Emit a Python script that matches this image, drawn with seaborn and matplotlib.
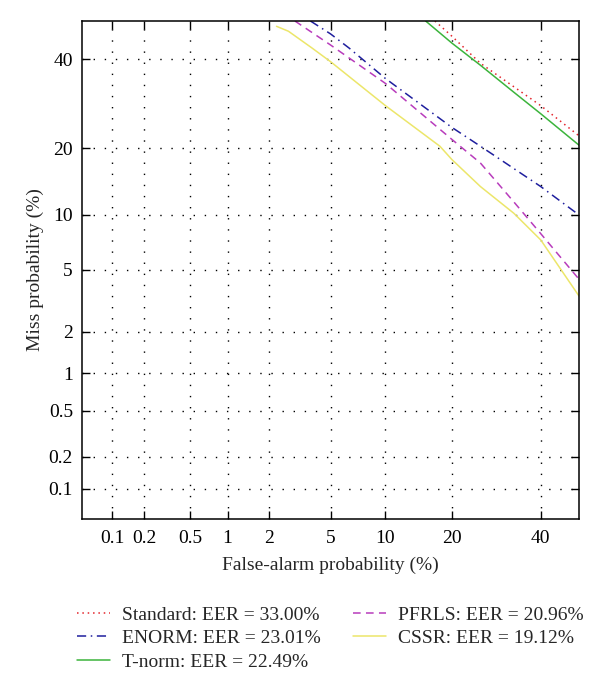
"""DET curves for the five score normalisation systems."""

import math

import matplotlib
matplotlib.use("Agg")
import matplotlib.pyplot as plt
import numpy as np
import pandas as pd
import seaborn as sns

sns.set_style("ticks")
plt.rcParams["font.family"] = ["Liberation Serif", "DejaVu Serif"]

# values, in percent
standard_fa = [17.0, 20.0, 25.7, 33.3, 40.0, 50.0]
standard_miss = [50.0, 46.0, 39.0, 33.2, 28.8, 22.4]

enorm_fa = [3.77, 5.0, 6.4, 10.0, 20.0, 25.7, 40.0, 50.0]
enorm_miss = [50.0, 46.6, 42.9, 35.2, 24.1, 20.4, 13.7, 10.0]

tnorm_fa = [15.5, 20.0, 25.7, 33.3, 40.0, 50.0]
tnorm_miss = [50.0, 44.2, 38.5, 31.9, 27.0, 20.6]

pfrls_fa = [3.0, 5.0, 10.0, 20.0, 25.7, 33.3, 40.0, 50.0]
pfrls_miss = [50.0, 43.7, 34.0, 21.7, 17.4, 11.6, 8.0, 4.4]

cssr_fa = [2.26, 2.72, 3.86, 5.0, 10.0, 17.85, 20.0, 25.7, 33.3, 40.0, 50.0]
cssr_miss = [48.6, 47.3, 42.9, 39.4, 28.8, 20.4, 18.0, 13.7, 10.2, 7.4, 3.46]

labels = [
    "Standard: EER = 33.00%",
    "ENORM: EER = 23.01%",
    "T-norm: EER = 22.49%",
    "PFRLS: EER = 20.96%",
    "CSSR: EER = 19.12%",
]
tick_values = [0.1, 0.2, 0.5, 1, 2, 5, 10, 20, 40]
tick_labels = ["0.1", "0.2", "0.5", "1", "2", "5", "10", "20", "40"]

colors = ["#e3242b", "#1f1f9e", "#3cb43c", "#b83cbc", "#ece66a"]
styles = [(1, 2.5), (6, 3, 1, 3), "", (5, 3.5), ""]


def _ppf(p):
    # Acklam's rational approximation of the normal quantile
    a = [-3.969683028665376e01, 2.209460984245205e02, -2.759285104469687e02,
         1.383577518672690e02, -3.066479806614716e01, 2.506628277459239e00]
    b = [-5.447609879822406e01, 1.615858368580409e02, -1.556989798598866e02,
         6.680131188771972e01, -1.328068155288572e01]
    c = [-7.784894002430293e-03, -3.223964580411365e-01, -2.400758277161838e00,
         -2.549732539343734e00, 4.374664141464968e00, 2.938163982698783e00]
    d = [7.784695709041462e-03, 3.224671290700398e-01, 2.445134137142996e00,
         3.754408661907416e00]
    p = min(max(p, 1e-12), 1 - 1e-12)
    lo = 0.02425
    if p < lo:
        q = math.sqrt(-2 * math.log(p))
        return (((((c[0] * q + c[1]) * q + c[2]) * q + c[3]) * q + c[4]) * q + c[5]) / \
            ((((d[0] * q + d[1]) * q + d[2]) * q + d[3]) * q + 1)
    if p > 1 - lo:
        q = math.sqrt(-2 * math.log(1 - p))
        return -(((((c[0] * q + c[1]) * q + c[2]) * q + c[3]) * q + c[4]) * q + c[5]) / \
            ((((d[0] * q + d[1]) * q + d[2]) * q + d[3]) * q + 1)
    q = p - 0.5
    r = q * q
    return (((((a[0] * r + a[1]) * r + a[2]) * r + a[3]) * r + a[4]) * r + a[5]) * q / \
        (((((b[0] * r + b[1]) * r + b[2]) * r + b[3]) * r + b[4]) * r + 1)


def probit(pct):
    return np.vectorize(_ppf, otypes=[float])(np.asarray(pct, dtype=float) / 100.0)


def inv_probit(z):
    cdf = np.vectorize(lambda v: 0.5 * (1 + math.erf(v / math.sqrt(2))), otypes=[float])
    return 100.0 * cdf(np.asarray(z, dtype=float))


frames = []
for name, fa, miss in zip(labels,
                          [standard_fa, enorm_fa, tnorm_fa, pfrls_fa, cssr_fa],
                          [standard_miss, enorm_miss, tnorm_miss, pfrls_miss, cssr_miss]):
    frames.append(pd.DataFrame({"fa": fa, "miss": miss, "system": name}))
df = pd.concat(frames, ignore_index=True)

fig = plt.figure(figsize=(6.0, 6.95), dpi=100)
ax = fig.add_axes([82 / 600, 1 - 519 / 695, 497 / 600, 498 / 695])
ax.set_xscale("function", functions=(probit, inv_probit))
ax.set_yscale("function", functions=(probit, inv_probit))

sns.lineplot(data=df, x="fa", y="miss", hue="system", style="system",
             palette=dict(zip(labels, colors)), dashes=dict(zip(labels, styles)),
             sort=False, estimator=None, linewidth=1.1, ax=ax)

ax.set_xlim(0.05, 50)
ax.set_ylim(0.05, 50)
ax.set_xticks(tick_values)
ax.set_xticklabels(tick_labels)
ax.set_yticks(tick_values)
ax.set_yticklabels(tick_labels)
ax.minorticks_off()
ax.tick_params(axis="both", which="major", direction="in", length=5.5, width=1.0,
               top=True, right=True, labelsize=14, colors="black")
ax.tick_params(axis="x", pad=8)
ax.tick_params(axis="y", pad=6.5)
ax.grid(True, color="black", linestyle=(0, (1, 7)), linewidth=1.0)
for spine in ax.spines.values():
    spine.set_linewidth(1.1)
    spine.set_color("black")

ax.set_xlabel("False-alarm probability (%)", fontsize=14, labelpad=7)
ax.set_ylabel("Miss probability (%)", fontsize=14, labelpad=3)

handles, names = ax.get_legend_handles_labels()
ax.legend_.remove()
fig.legend(handles, names, ncol=2, loc="upper left", bbox_to_anchor=(0.128, 0.128),
           frameon=False, fontsize=14, handlelength=1.7, handletextpad=0.6,
           columnspacing=1.7, labelspacing=0.3, borderpad=0, borderaxespad=0)

fig.savefig("out.png", dpi=100)
